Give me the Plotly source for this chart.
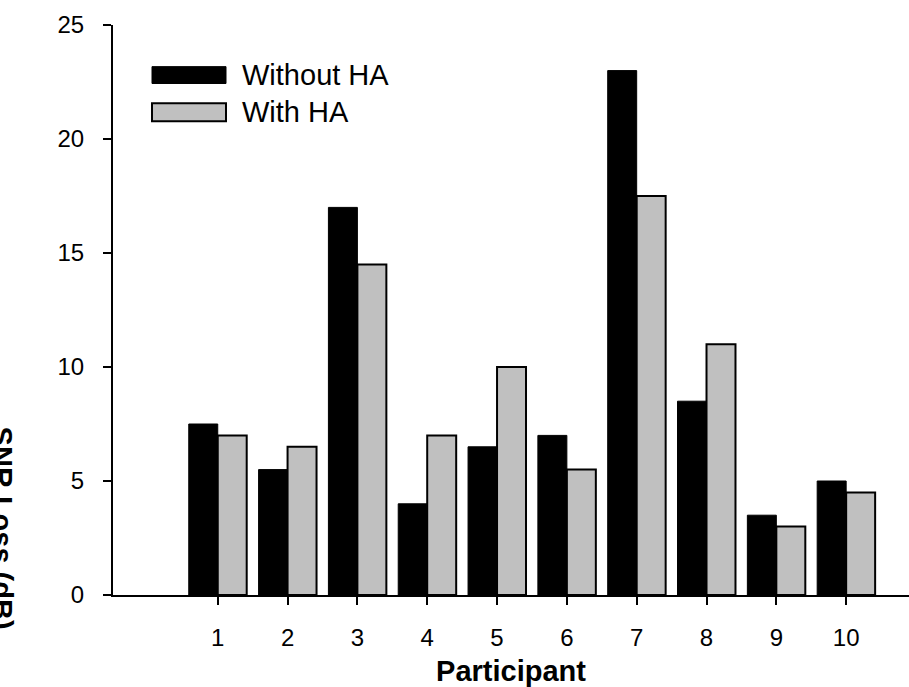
import plotly.graph_objects as go

participants = [1, 2, 3, 4, 5, 6, 7, 8, 9, 10]
without_ha = [7.5, 5.5, 17.0, 4.0, 6.5, 7.0, 23.0, 8.5, 3.5, 5.0]
with_ha = [7.0, 6.5, 14.5, 7.0, 10.0, 5.5, 17.5, 11.0, 3.0, 4.5]
y_ticks = [0, 5, 10, 15, 20, 25]
series_names = ["Without HA", "With HA"]

L, R, T, B = 113, 0, 25, 87
W, H = 909, 687
PW, PH = W - L - R, H - T - B


def px(x):
    return (x - L) / PW


def py(y):
    return (H - B - y) / PH


fig = go.Figure()
fig.add_trace(go.Bar(x=participants, y=without_ha, name=series_names[0],
                     marker=dict(color="black", line=dict(color="black", width=1)),
                     showlegend=False))
fig.add_trace(go.Bar(x=participants, y=with_ha, name=series_names[1],
                     marker=dict(color="#c0c0c0", line=dict(color="black", width=2)),
                     showlegend=False))

font = "Liberation Sans, Arial, sans-serif"

# manual legend (wide keys as in the reference)
fig.add_shape(type="rect", xref="paper", yref="paper",
              x0=px(152), x1=px(226), y0=py(84), y1=py(67),
              fillcolor="black", line=dict(color="black", width=1))
fig.add_shape(type="rect", xref="paper", yref="paper",
              x0=px(152), x1=px(226), y0=py(122), y1=py(104),
              fillcolor="#c0c0c0", line=dict(color="black", width=2))
fig.add_annotation(xref="paper", yref="paper", x=px(240), y=py(75),
                   xanchor="left", yanchor="middle", showarrow=False,
                   text=series_names[0], font=dict(family=font, size=29, color="black"))
fig.add_annotation(xref="paper", yref="paper", x=px(240), y=py(113),
                   xanchor="left", yanchor="middle", showarrow=False,
                   text=series_names[1], font=dict(family=font, size=29, color="black"))

# y-axis title, mostly cut off at the left edge as in the reference
fig.add_annotation(xref="paper", yref="paper", x=px(2), y=py(532),
                   xanchor="center", yanchor="middle", showarrow=False, textangle=90,
                   text="<b>SNR Loss (dB)</b>", font=dict(family=font, size=29, color="black"))

fig.update_layout(
    width=W, height=H,
    margin=dict(l=L, r=R, t=T, b=B, pad=0),
    paper_bgcolor="white", plot_bgcolor="white",
    barmode="group", bargap=0.17, bargroupgap=0,
    font=dict(family=font, size=24, color="black"),
)
fig.update_xaxes(range=[-0.5, 10.9], tickvals=participants,
                 ticktext=[str(p) for p in participants],
                 showline=True, linecolor="black", linewidth=2,
                 ticks="outside", ticklen=8, tickwidth=2, tickcolor="black",
                 showgrid=False, zeroline=False, ticklabelstandoff=12,
                 title=dict(text="<b>Participant</b>", standoff=16,
                            font=dict(family=font, size=29, color="black")))
fig.update_yaxes(range=[0, 25], tickvals=y_ticks,
                 showline=True, linecolor="black", linewidth=2,
                 ticks="outside", ticklen=8, tickwidth=2, tickcolor="black",
                 showgrid=False, zeroline=False, ticklabelstandoff=14)

fig.write_html("out.html", config={"displayModeBar": False},
               post_script="document.body.style.margin='0';document.body.style.overflow='hidden';")
